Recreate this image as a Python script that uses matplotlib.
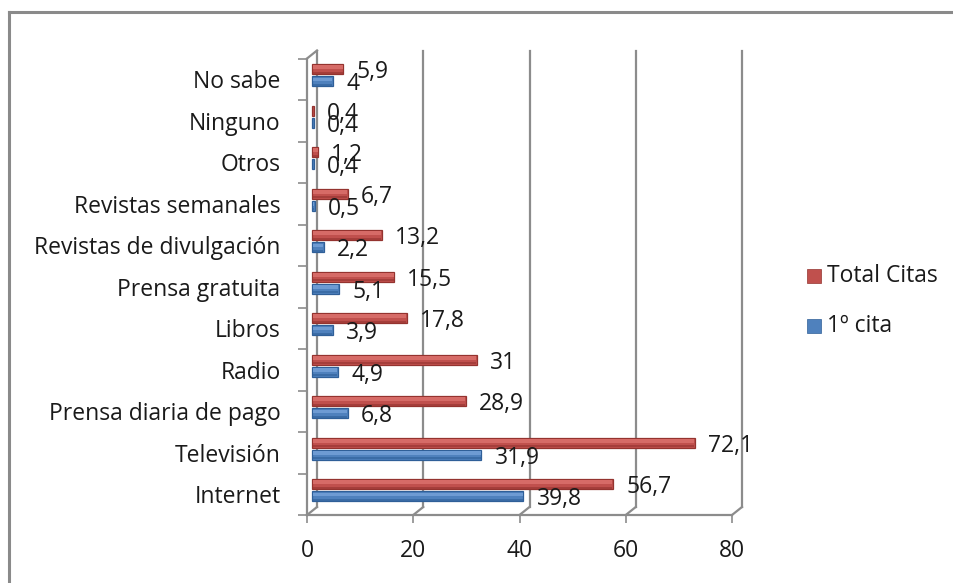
import matplotlib
matplotlib.use("Agg")
import matplotlib.pyplot as plt
from matplotlib.lines import Line2D
from matplotlib.patches import Rectangle

categorias = ["Internet", "Televisión", "Prensa diaria de pago", "Radio", "Libros",
              "Prensa gratuita", "Revistas de divulgación", "Revistas semanales",
              "Otros", "Ninguno", "No sabe"]
total_citas = [56.7, 72.1, 28.9, 31, 17.8, 15.5, 13.2, 6.7, 1.2, 0.4, 5.9]
primera_cita = [39.8, 31.9, 6.8, 4.9, 3.9, 5.1, 2.2, 0.5, 0.4, 0.4, 4]
xticks = [0, 20, 40, 60, 80]

plt.rcParams['font.family'] = ['Open Sans', 'DejaVu Sans']
FS = 16.5
TXT = '#1a1a1a'
GRID = '#8c8c8c'
ROJO, ROJO_OSC, ROJO_CLA = '#C0504D', '#94332F', '#D66B67'
AZUL, AZUL_OSC, AZUL_CLA = '#4F81BD', '#2F5F98', '#6E9BD3'

W, H = 954, 583
fig = plt.figure(figsize=(W / 100, H / 100), dpi=100)

# front plane of the fake 3d box, in pixels
x0, x1 = 307, 732
ybot, ytop = 515, 58.5
ax = fig.add_axes([x0 / W, 1 - ybot / H, (x1 - x0) / W, (ybot - ytop) / H])
ax.set_xlim(0, 80)
ax.set_ylim(-0.5, 10.5)
for s in ax.spines.values():
    s.set_visible(False)

# depth offset (back wall) in data units
DX = 10 * 80 / (x1 - x0)
DY = 8 / ((ybot - ytop) / 11)

# back wall gridlines + floor diagonals
for v in xticks:
    ax.plot([v + DX, v + DX], [-0.5 + DY, 10.5 + DY], color=GRID, lw=1.6, clip_on=False, zorder=1)
    ax.plot([v, v + DX], [-0.5, -0.5 + DY], color=GRID, lw=1.6, clip_on=False, zorder=1)
ax.plot([0, DX], [10.5, 10.5 + DY], color=GRID, lw=1.6, clip_on=False, zorder=1)
# front axes
ax.plot([0, 0], [-0.5, 10.5], color=GRID, lw=1.6, clip_on=False, zorder=2)
ax.plot([0, 80], [-0.5, -0.5], color=GRID, lw=1.6, clip_on=False, zorder=2)

# bars sit half way in depth
y = list(range(len(categorias)))
bh = 0.25
off = 0.145
yr = [v + off + DY / 2 for v in y]
yb = [v - off + DY / 2 for v in y]
for vals, ys, c, co, cc in [(total_citas, yr, ROJO, ROJO_OSC, ROJO_CLA),
                            (primera_cita, yb, AZUL, AZUL_OSC, AZUL_CLA)]:
    ax.barh(ys, vals, height=bh, left=DX / 2, color=c, edgecolor=co, lw=0.9, zorder=3)
    # cylinder shading: light upper band, dark lower band
    ax.barh([v + 0.045 for v in ys], [max(v - 0.25, 0) for v in vals], height=0.09,
            left=DX / 2 + 0.1, color=cc, lw=0, zorder=4)
    ax.barh([v - 0.085 for v in ys], [max(v - 0.25, 0) for v in vals], height=0.05,
            left=DX / 2 + 0.1, color=co, lw=0, zorder=4, alpha=0.6)
    for v, yy in zip(vals, ys):
        lab = f"{v:g}".replace('.', ',')
        ax.annotate(lab, xy=(v + DX / 2, yy), xytext=(13, -3), textcoords='offset pixels',
                    ha='left', va='center', fontsize=FS, color=TXT, zorder=5,
                    annotation_clip=False)

ax.set_xticks(xticks)
ax.set_xticklabels([str(v) for v in xticks], fontsize=FS, color=TXT)
ax.tick_params(axis='x', length=6, width=1.2, color=GRID, pad=11, direction='out')
ax.set_yticks(y)
ax.set_yticklabels(categorias, fontsize=FS, color=TXT)
ax.set_yticks([v - 0.5 for v in range(len(categorias) + 1)], minor=True)
ax.tick_params(axis='y', which='major', length=0, pad=19)
ax.tick_params(axis='y', which='minor', length=6.5, width=1.2, color=GRID)

# legend
for yy, c, co, lab in [(276, ROJO, ROJO_OSC, "Total Citas"), (326, AZUL, AZUL_OSC, "1º cita")]:
    fig.add_artist(Rectangle((807 / W, 1 - (yy + 7) / H), 14 / W, 14 / H, transform=fig.transFigure,
                             facecolor=c, edgecolor=co, lw=0.5))
    fig.text(827 / W, 1 - yy / H, lab, fontsize=FS, color=TXT, va='center', ha='left')

# chart area border
fig.add_artist(Line2D([9 / W, 9 / W], [0, 1 - 12 / H], transform=fig.transFigure, color='#8a8a8a', lw=2.2))
fig.add_artist(Line2D([9 / W, 953 / W], [1 - 12 / H, 1 - 12 / H], transform=fig.transFigure, color='#8a8a8a', lw=2.2))

fig.savefig("out.png", dpi=100)
